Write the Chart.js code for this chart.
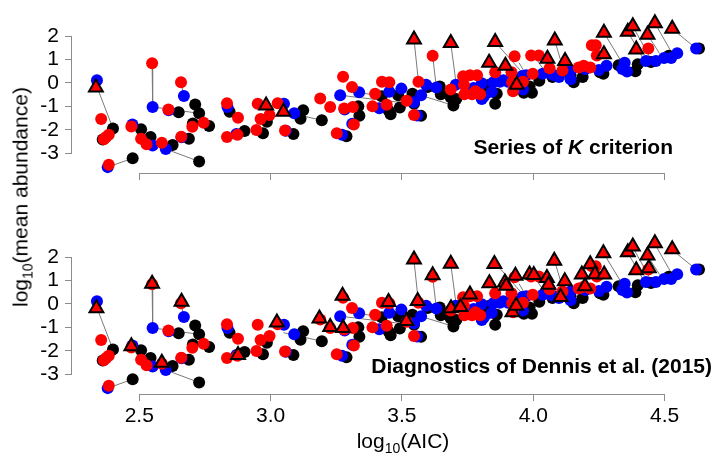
<!DOCTYPE html>
<html><head><meta charset="utf-8">
<script src="https://cdn.jsdelivr.net/npm/chart.js@4.4.1/dist/chart.umd.min.js"></script>
<style>
body{margin:0;background:#fff;width:714px;height:456px;overflow:hidden;position:relative;font-family:"Liberation Sans",Arial,sans-serif;}
.pane{position:absolute;left:0;width:714px;}
#p1{top:0;height:200px}
#p2{top:221px;height:235px}
.lbl{position:absolute;white-space:nowrap;color:#000;font-size:21px;line-height:1}
.lbl sub{font-size:14px;vertical-align:-5px;line-height:0}
#ytitle{left:20px;top:197px;transform:translate(-50%,-50%) rotate(-90deg);}
#xtitle{left:403px;top:440px;transform:translate(-50%,-50%);}
#ann1{right:41px;top:146px;transform:translateY(-50%);font-weight:bold;}
#ann2{right:2px;top:365px;transform:translateY(-50%);font-weight:bold;}
</style></head><body>
<div class="pane" id="p1"><canvas id="c1"></canvas></div>
<div class="pane" id="p2"><canvas id="c2"></canvas></div>
<div class="lbl" id="ytitle">log<sub>10</sub>(mean abundance)</div>
<div class="lbl" id="xtitle">log<sub>10</sub>(AIC)</div>
<div class="lbl" id="ann1">Series of <i>K</i> criterion</div>
<div class="lbl" id="ann2">Diagnostics of Dennis et al. (2015)</div>
<script>
const xTicks = [2.5, 3.0, 3.5, 4.0, 4.5];
const yTicks = [2, 1, 0, -1, -2, -3];

const blackX = [2.361,2.400,2.475,2.507,2.543,2.627,2.728,2.650,2.728,2.713,2.704,2.766,2.689,2.844,2.901,2.986,2.971,3.124,3.114,3.195,3.087,3.338,3.334,3.289,3.423,3.450,3.457,3.486,3.492,3.546,3.540,3.573,3.598,3.644,3.648,3.696,3.707,3.686,3.821,3.861,3.833,3.823,3.855,3.986,3.964,3.995,4.023,4.073,4.142,4.154,4.188,4.254,4.267,4.325,4.398,4.389,4.448,4.516,4.631];
const blackY = [-2.422,-1.947,-3.217,-1.976,-2.312,-2.649,-3.355,-1.258,-1.298,-0.921,-1.732,-1.838,-2.381,-1.229,-2.057,-1.663,-2.150,-1.164,-1.529,-1.594,-2.179,-1.400,-1.002,-2.284,-0.568,-1.189,-1.339,-0.527,-1.055,-0.893,-0.458,-1.408,-0.174,-0.150,-0.487,-0.962,-0.690,-0.621,-0.150,-0.458,-0.081,-0.418,-0.893,-0.150,-0.418,-0.418,0.093,0.256,0.325,0.028,0.256,0.458,0.394,0.759,0.799,0.499,0.893,1.164,1.473];

const blueX = [2.339,2.380,2.474,2.551,2.601,2.551,2.612,2.670,2.661,2.836,2.870,3.051,3.090,3.058,3.265,3.282,3.311,3.272,3.337,3.414,3.452,3.498,3.546,3.558,3.573,3.592,3.631,3.705,3.773,3.804,3.811,3.842,3.861,3.886,3.804,3.848,3.873,3.904,3.958,3.973,3.961,4.036,4.067,4.079,4.098,4.142,4.142,4.198,4.250,4.279,4.339,4.348,4.357,4.429,4.467,4.498,4.525,4.548,4.620];
const blueY = [0.110,-3.599,-1.773,-2.678,-2.828,-1.026,-1.164,-0.556,-2.325,-1.026,-2.179,-0.893,-1.298,-2.041,-0.527,-1.136,-1.745,-2.219,-0.394,-1.083,-0.377,-0.243,-0.824,-1.392,-0.527,-0.081,-0.191,-0.081,-0.215,-0.012,-0.596,-0.377,0.122,0.110,-0.690,0.028,0.053,0.053,0.296,0.325,-0.284,0.394,0.394,0.325,0.256,0.162,0.527,0.596,0.556,0.730,0.596,0.864,0.487,0.933,0.933,1.067,1.067,1.270,1.473];

const redX = [2.355,2.365,2.374,2.384,2.384,2.470,2.507,2.528,2.586,2.549,2.611,2.659,2.702,2.745,2.660,2.834,2.876,2.834,2.874,2.951,2.962,2.996,2.946,3.027,3.055,3.189,3.227,3.276,3.310,3.280,3.313,3.317,3.252,3.424,3.452,3.388,3.398,3.442,3.518,3.546,3.563,3.617,3.686,3.733,3.759,3.786,3.736,3.738,3.767,3.780,3.798,3.855,3.917,3.920,3.923,3.929,3.961,3.992,4.021,3.998,4.062,4.111,4.173,4.192,4.217,4.223,4.238,4.242,4.438];
const redY = [-1.542,-2.406,-2.312,-2.219,-3.501,-1.866,-2.381,-2.625,-2.556,0.840,-1.136,0.028,-1.878,-1.704,-2.300,-0.864,-1.489,-2.312,-2.219,-0.893,-1.542,-1.367,-2.016,-0.864,-2.029,-0.661,-1.026,0.264,-0.174,-1.095,-1.026,-1.773,-2.150,0.053,0.028,-1.002,-0.458,-0.933,-0.759,-1.367,0.053,1.164,-0.284,0.284,0.325,0.325,-0.081,-0.487,-0.487,-0.353,-0.487,0.458,0.458,0.028,-0.353,1.136,0.053,1.177,1.177,0.394,0.629,0.527,0.661,0.730,0.661,1.611,1.611,1.177,1.473];

const triKX = [2.335,2.983,3.049,3.546,3.686,3.832,3.855,3.894,3.937,4.054,4.082,4.121,4.269,4.269,4.360,4.379,4.392,4.435,4.463,4.529];
const triKY = [-0.191,-0.962,-1.229,1.854,1.704,0.864,1.745,0.730,-0.081,1.035,1.813,0.933,2.150,1.229,2.191,2.422,1.432,2.057,2.556,2.312];

const triDX = [2.337,2.549,2.661,2.470,2.586,2.876,3.024,3.186,3.227,3.276,3.274,3.449,3.517,3.546,3.560,3.617,3.686,3.687,3.723,3.759,3.833,3.852,3.892,3.897,3.932,3.986,4.002,4.052,4.058,4.080,4.104,4.120,4.185,4.197,4.217,4.235,4.267,4.270,4.360,4.379,4.392,4.435,4.440,4.463,4.529,3.921,3.935];
const triDY = [-0.187,0.868,0.097,-1.809,-2.515,-2.183,-0.795,-0.621,-0.986,-1.026,0.353,0.081,-0.734,1.903,0.122,1.225,1.720,-0.187,-0.126,0.406,0.880,1.712,0.913,0.779,1.205,1.258,1.233,1.104,0.820,1.846,0.292,0.974,1.254,0.759,1.692,1.274,2.166,1.254,2.207,2.454,1.440,2.069,1.529,2.592,2.333,-0.357,-0.081];

const segX1 = [2.336,2.549,2.551,2.659,2.380,2.601,3.049,3.546,3.686,3.617,3.571,3.265,3.855,4.082,4.269,4.379,4.360,4.463,4.529,4.435,3.832,3.894,3.946,4.017,3.338];
const segY1 = [-0.081,0.840,-1.026,0.028,-3.599,-2.828,-1.229,1.854,1.704,1.164,-0.527,-0.527,1.745,1.813,2.150,2.422,2.191,2.556,2.312,2.057,0.864,0.730,0.864,0.933,-0.406];
const segX2 = [2.400,2.551,2.728,2.670,2.475,2.728,3.195,3.563,3.706,3.631,3.696,3.540,3.961,4.103,4.338,4.448,4.417,4.529,4.613,4.481,3.897,3.961,3.967,4.038,3.421];
const segY2 = [-1.947,-1.026,-1.298,-0.556,-3.217,-3.355,-1.594,0.053,0.000,-0.191,-0.962,-0.893,0.406,1.014,0.864,1.014,1.067,1.258,1.542,1.258,0.000,0.162,0.458,0.596,-0.568];

const FONT = '"Liberation Sans", Arial, sans-serif';
const AXIS_COL = '#8c8c8c';

function pts(xs, ys){ return xs.map((x,i)=>({x:x, y:ys[i]})); }

const axisLines = {
  id:'axisLines',
  beforeDatasetsDraw(chart){
    const {ctx, chartArea} = chart; const x = chart.scales.x, y = chart.scales.y;
    ctx.save(); ctx.strokeStyle = AXIS_COL; ctx.lineWidth = 1; ctx.beginPath();
    const yb = Math.round(chartArea.bottom) + 0.5;
    ctx.moveTo(x.getPixelForValue(xTicks[0]), yb);
    ctx.lineTo(x.getPixelForValue(xTicks[xTicks.length-1]), yb);
    const xl = Math.round(chartArea.left) - 0.5;
    ctx.moveTo(xl, y.getPixelForValue(yTicks[0]));
    ctx.lineTo(xl, y.getPixelForValue(yTicks[yTicks.length-1]));
    ctx.stroke(); ctx.restore();
  }
};

function makeChart(id, triX, triY, showXLabels, xAxisH){
  const datasets = [];
  for (let i=0;i<segX1.length;i++){
    datasets.push({data:[{x:segX1[i],y:segY1[i]},{x:segX2[i],y:segY2[i]}], showLine:true,
      borderColor:'#7a7a7a', borderWidth:1, pointRadius:0, order:10, clip:false});
  }
  datasets.push({data:pts(blackX,blackY), backgroundColor:'#000000', borderColor:'#000000', borderWidth:0, pointRadius:6, order:4, clip:false});
  datasets.push({data:pts(blueX,blueY), backgroundColor:'#0000ff', borderColor:'#0000ff', borderWidth:0, pointRadius:6, order:3, clip:false});
  datasets.push({data:pts(redX,redY), backgroundColor:'#ff0000', borderColor:'#ff0000', borderWidth:0, pointRadius:6, order:2, clip:false});
  datasets.push({data:pts(triX,triY), pointStyle:'triangle', backgroundColor:'#ff0000', borderColor:'#000000', borderWidth:2, pointRadius:8, order:1, clip:false});
  return new Chart(document.getElementById(id), {
    type:'scatter',
    data:{datasets},
    options:{
      responsive:true, maintainAspectRatio:false, animation:false, events:[],
      layout:{padding:{top:11,left:0,right:0,bottom:0}},
      plugins:{legend:{display:false}, tooltip:{enabled:false}},
      scales:{
        x:{type:'linear', min:2.244, max:4.65,
          afterBuildTicks:s=>{ s.ticks = xTicks.map(v=>({value:v})); },
          afterFit:s=>{ s.height = xAxisH; },
          grid:{drawOnChartArea:false, drawTicks:true, tickLength:7, color:AXIS_COL, lineWidth:1},
          border:{display:false},
          ticks:{display:showXLabels, color:'#000', font:{family:FONT, size:21}, padding:3, maxRotation:0, autoSkip:false,
            callback:v=>Number(v).toFixed(1)}
        },
        y:{type:'linear', min:-3.85, max:2.75,
          afterBuildTicks:s=>{ s.ticks = yTicks.map(v=>({value:v})); },
          afterFit:s=>{ s.width = 72; },
          grid:{drawOnChartArea:false, drawTicks:true, tickLength:7, color:AXIS_COL, lineWidth:1},
          border:{display:false},
          ticks:{color:'#000', font:{family:FONT, size:21}, padding:6, autoSkip:false, callback:v=>String(v)}
        }
      }
    },
    plugins:[axisLines]
  });
}

makeChart('c1', triKX, triKY, false, 27);
makeChart('c2', triDX, triDY, true, 62);
</script>
</body></html>
